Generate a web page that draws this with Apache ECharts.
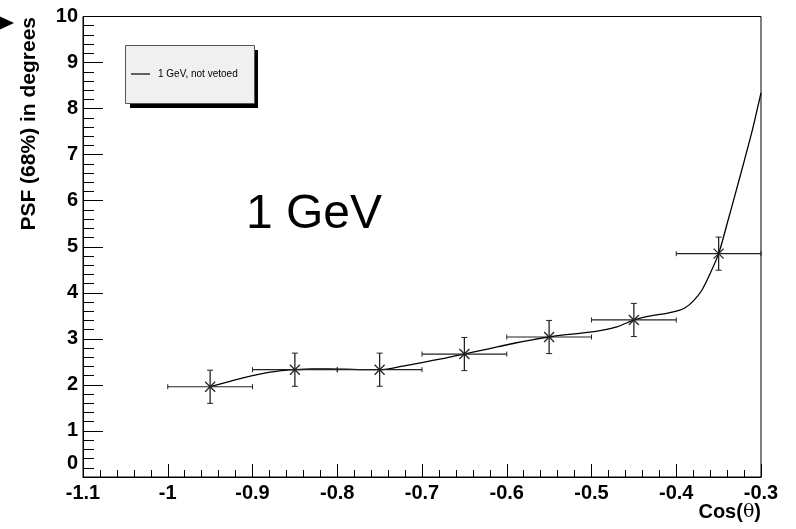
<!DOCTYPE html>
<html>
<head>
<meta charset="utf-8">
<script src="https://cdn.jsdelivr.net/npm/echarts@6/dist/echarts.min.js"></script>
<style>
  html, body { margin: 0; padding: 0; background: #fff; }
  #chart { width: 796px; height: 529px; }
</style>
</head>
<body>
<div id="chart"></div>
<script>
// Bin centres in cos(theta), PSF 68% containment values and their uncertainties
const binCenters = [-0.95, -0.85, -0.75, -0.65, -0.55, -0.45, -0.35];
const psfValues = [1.96, 2.33, 2.33, 2.67, 3.04, 3.41, 4.85];
const psfErrors = [0.36, 0.36, 0.36, 0.36, 0.36, 0.36, 0.36];
const binHalfWidths = [0.05, 0.05, 0.05, 0.05, 0.05, 0.05, 0.05];

// Smooth curve through the measurements
const curveX = [-0.95, -0.93, -0.91, -0.89, -0.87, -0.85, -0.83, -0.81, -0.79, -0.77,
                -0.75, -0.73, -0.71, -0.69, -0.67, -0.65, -0.63, -0.61, -0.59, -0.57,
                -0.55, -0.53, -0.51, -0.49, -0.47, -0.45, -0.44, -0.43, -0.42, -0.41,
                -0.40, -0.39, -0.38, -0.37, -0.36, -0.35, -0.34, -0.33, -0.32, -0.31, -0.30];
const curveY = [1.96, 2.06, 2.16, 2.24, 2.30, 2.33, 2.345, 2.345, 2.34, 2.33,
                2.33, 2.38, 2.45, 2.52, 2.59, 2.67, 2.75, 2.83, 2.91, 2.98,
                3.04, 3.09, 3.13, 3.18, 3.26, 3.41, 3.46, 3.50, 3.53, 3.56,
                3.60, 3.67, 3.82, 4.05, 4.42, 4.85, 5.50, 6.17, 6.85, 7.55, 8.34];

// Axis ranges and tick steps
const xRange = [-1.1, -0.3];
const xStep = 0.1;
const yRange = [0, 10];
const yStep = 1;

const seriesName = '1 GeV, not vetoed';
const FONT = "'Liberation Sans', Arial, Helvetica, sans-serif";

const pointData = binCenters.map((x, i) => [x, psfValues[i], psfErrors[i], binHalfWidths[i]]);
const curveData = curveX.map((x, i) => [x, curveY[i]]);

function renderPoint(params, api) {
  const x = api.value(0), y = api.value(1), ey = api.value(2), ex = api.value(3);
  const c = api.coord([x, y]);
  const t = api.coord([x, y + ey]);
  const b = api.coord([x, y - ey]);
  const l = api.coord([x - ex, y]);
  const r = api.coord([x + ex, y]);
  const st = { stroke: '#222', lineWidth: 1 };
  const ln = (x1, y1, x2, y2, w) => ({
    type: 'line',
    shape: { x1, y1, x2, y2 },
    style: Object.assign({}, st, w ? { lineWidth: w } : {})
  });
  const m = 5;
  return {
    type: 'group',
    children: [
      ln(t[0], t[1], b[0], b[1], 1.3),
      ln(t[0] - 3, t[1], t[0] + 3, t[1]),
      ln(b[0] - 3, b[1], b[0] + 3, b[1]),
      ln(l[0], l[1], r[0], r[1], 1.2),
      ln(l[0], l[1] - 2.5, l[0], l[1] + 2.5),
      ln(r[0], r[1] - 2.5, r[0], r[1] + 2.5),
      ln(c[0] - m, c[1] - m, c[0] + m, c[1] + m, 1.2),
      ln(c[0] - m, c[1] + m, c[0] + m, c[1] - m, 1.2)
    ]
  };
}

const chart = echarts.init(document.getElementById('chart'), null, { renderer: 'canvas' });

chart.setOption({
  animation: false,
  backgroundColor: '#ffffff',
  grid: {
    left: 83, right: 35, top: 16.5, bottom: 52,
    show: true, borderColor: '#000', borderWidth: 1, backgroundColor: 'transparent'
  },
  xAxis: {
    type: 'value',
    min: xRange[0], max: xRange[1], interval: xStep,
    axisLine: { show: true, lineStyle: { color: '#000', width: 1 } },
    axisTick: { show: true, inside: true, length: 13, lineStyle: { color: '#000', width: 1 } },
    minorTick: { show: true, splitNumber: 5, length: 7, lineStyle: { color: '#000', width: 1 } },
    splitLine: { show: false },
    axisLabel: {
      show: true, margin: 6, color: '#000', fontSize: 20, fontWeight: 'bold', fontFamily: FONT,
      showMinLabel: true, showMaxLabel: true
    }
  },
  yAxis: {
    type: 'value',
    min: yRange[0], max: yRange[1], interval: yStep,
    axisLine: { show: true, lineStyle: { color: '#000', width: 1 } },
    axisTick: { show: true, inside: true, length: 20, lineStyle: { color: '#000', width: 1 } },
    minorTick: { show: true, splitNumber: 5, length: 11, lineStyle: { color: '#000', width: 1 } },
    splitLine: { show: false },
    axisLabel: {
      show: true, margin: 5, color: '#000', fontSize: 20, fontWeight: 'bold', fontFamily: FONT,
      formatter: v => (v === 0 ? '{z|0}' : String(v)),
      rich: { z: { fontSize: 20, fontWeight: 'bold', fontFamily: FONT, color: '#000', padding: [0, 0, 28, 0] } }
    }
  },
  legend: {
    show: true,
    left: 131, top: 69,
    padding: 0,
    icon: 'rect',
    itemWidth: 19, itemHeight: 1.2, itemGap: 0,
    textStyle: { fontSize: 10, color: '#000', fontFamily: FONT, padding: [0, 0, 0, 3] },
    data: [{ name: seriesName }]
  },
  series: [
    {
      name: seriesName,
      type: 'line',
      data: curveData,
      smooth: 0.3,
      symbol: 'none',
      lineStyle: { color: '#000', width: 1.3 },
      itemStyle: { color: '#000' },
      z: 3
    },
    {
      name: 'points',
      type: 'custom',
      data: pointData,
      renderItem: renderPoint,
      encode: { x: 0, y: 1 },
      z: 4
    }
  ],
  graphic: [
    // legend frame with drop shadow
    { type: 'rect', shape: { x: 130, y: 50, width: 128, height: 58 }, style: { fill: '#000' }, z: -2 },
    { type: 'rect', shape: { x: 125.5, y: 45.5, width: 129, height: 58 },
      style: { fill: '#f0f0f0', stroke: '#555', lineWidth: 1 }, z: -1 },
    // big energy label
    { type: 'text', x: 246, y: 239,
      style: { text: '1 GeV', fontSize: 48, fontFamily: FONT, fill: '#000', textVerticalAlign: 'bottom', textAlign: 'left' },
      z: 10 },
    // y-axis title
    { type: 'text', x: 19, y: 17, rotation: Math.PI / 2,
      style: { text: 'PSF (68%) in degrees', fontSize: 21, fontWeight: 'bold', fontFamily: FONT, fill: '#000',
               textAlign: 'right', textVerticalAlign: 'top' },
      z: 10 },
    // x-axis title
    { type: 'text', x: 761, y: 522,
      style: {
        text: '{b|Cos}{b|(}{t|θ}{b|)}',
        textAlign: 'right', textVerticalAlign: 'bottom',
        rich: {
          b: { fontSize: 20, fontWeight: 'bold', fontFamily: FONT, fill: '#000' },
          t: { fontSize: 19, fontFamily: "'DejaVu Serif', 'Liberation Serif', serif", fill: '#000' }
        }
      },
      z: 10 },
    // pointer mark in the upper-left corner
    { type: 'polygon', shape: { points: [[0, 16.5], [0, 29.5], [14, 23]] }, style: { fill: '#000' }, z: 10 }
  ]
});
</script>
</body>
</html>
